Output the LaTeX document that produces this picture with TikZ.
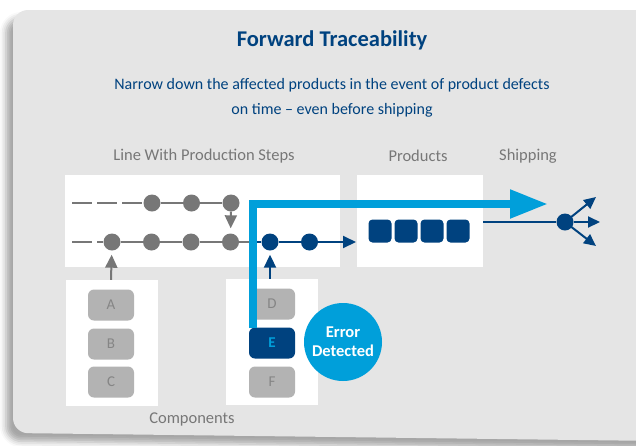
\documentclass[tikz,border=0pt]{standalone}
\usepackage{fontspec}
\setmainfont{Carlito}
\usetikzlibrary{positioning,calc,arrows.meta,shadows.blur}
\definecolor{navy}{HTML}{00427F}
\definecolor{errcyan}{HTML}{009FDA}
\definecolor{cardgray}{HTML}{E5E5E5}
\definecolor{dotgray}{HTML}{777777}
\definecolor{partgray}{HTML}{B3B3B3}
\definecolor{parttext}{HTML}{858585}
\definecolor{labelgray}{HTML}{777777}

\begin{document}
\begin{tikzpicture}[x=1pt,y=-1pt,node distance=39.5pt,on grid,
  stepdot/.style={circle,fill=dotgray,inner sep=0pt,minimum size=17pt},
  donedot/.style={stepdot,fill=navy},
  panel/.style={fill=white,inner sep=0pt},
  part/.style={rounded corners=6pt,fill=partgray,inner sep=0pt,minimum width=46pt,minimum height=31pt,text=parttext,font=\fontsize{15}{15}\selectfont},
  product/.style={rounded corners=4pt,fill=navy,inner sep=0pt,minimum size=23pt},
  caption/.style={text=labelgray,font=\fontsize{16.5}{16.5}\selectfont},
  gline/.style={dotgray,line width=2pt},
  dline/.style={gline,dash pattern=on 20pt off 5pt},
  nline/.style={navy,line width=2pt},
  tip/.style={-{Triangle[length=13pt,width=12pt]}}]
  \useasboundingbox (0,0) rectangle (636,445);

  % card
  \fill[cardgray,rounded corners=15pt,
    blur shadow={shadow xshift=-7pt,shadow yshift=-8pt,shadow blur radius=6pt,shadow opacity=35}]
    (13,10) -- (660,10) -- (660,441) -- (13,433) -- cycle;

  % texts
  \node[text=navy,font=\fontsize{22.5}{22.5}\selectfont\bfseries] (title) at (332,40) {Forward Traceability};
  \node[text=navy,align=center,font=\fontsize{16}{25}\selectfont] (sub) at (332,98)
    {Narrow down the affected products in the event of product defects\\on time -- even before shipping};
  \node[caption] (lbl_line) at (204,156) {Line With Production Steps};
  \node[caption] (lbl_prod) at (418,156) {Products};
  \node[caption] (lbl_ship) at (528,156) {Shipping};
  \node[caption] (lbl_comp) at (192,419) {Components};

  % panels
  \node[panel,minimum width=275pt,minimum height=92pt] (line_panel) at (202,221) {};
  \node[panel,minimum width=126pt,minimum height=92pt] (prod_panel) at (420,221) {};
  \node[panel,minimum width=92pt,minimum height=126pt] (comp_a) at (112,343) {};
  \node[panel,minimum width=92pt,minimum height=126pt] (comp_d) at (272,342) {};

  % production steps
  \node[stepdot] (t_1) at (152,203) {};
  \node[stepdot] (t_2) [right=of t_1] {};
  \node[stepdot] (t_3) [right=of t_2] {};
  \node[stepdot] (b_1) at (112,242) {};
  \node[stepdot] (b_2) [right=of b_1] {};
  \node[stepdot] (b_3) [right=of b_2] {};
  \node[stepdot] (b_4) [right=of b_3] {};
  \node[donedot] (b_5) [right=of b_4] {};
  \node[donedot] (b_6) [right=of b_5] {};
  \coordinate (t_0) at (72,203);
  \coordinate (b_0) at (72,242);
  \coordinate (b_end) at (356,242);

  % components
  \node[part] (a) at (111,305) {A};
  \node[part] (b) at (111,344) {B};
  \node[part] (c) at (111,382) {C};
  \node[part] (d) at (272,304) {D};
  \node[part,fill=navy,text=errcyan,font=\fontsize{15}{15}\selectfont\bfseries] (e) at (272,343) {E};
  \node[part] (f) at (272,382) {F};

  % products and shipping
  \node[product] (p_1) at (380,231) {};
  \node[product] (p_2) [right=26pt of p_1] {};
  \node[product] (p_3) [right=26pt of p_2] {};
  \node[product] (p_4) [right=26pt of p_3] {};
  \node[circle,fill=navy,inner sep=0pt,minimum size=17pt] (hub) at (565,222) {};
  \coordinate (ship_in) at (483,222);
  \coordinate (ship_u) at (596,197);
  \coordinate (ship_r) at (600,222);
  \coordinate (ship_d) at (596,246);

  % connectors
  \draw[dline] (t_0) -- (t_1);
  \draw[gline] (t_1) -- (t_2) -- (t_3);
  \draw[dline] (b_0) -- (b_1);
  \draw[gline] (b_1) -- (b_2) -- (b_3) -- (b_4) -- (b_5);
  \draw[nline] ($(b_4)!0.5!(b_5)$) -- (b_5) -- (b_6);
  \draw[nline,tip] (b_6) -- (b_end);
  \draw[gline,tip,shorten >=5pt] (t_3) -- (b_4);
  \draw[gline,tip,shorten >=4pt] (a.north |- comp_a.north) -- (b_1);
  \draw[nline,tip,shorten >=4pt] (comp_d.north -| b_5) -- (b_5);
  \draw[nline] (ship_in) -- (hub);
  \draw[nline,{Triangle[length=12pt,width=11pt]}-{Triangle[length=12pt,width=11pt]}] (ship_u) -- (hub.center) -- (ship_d);
  \draw[nline,-{Triangle[length=12pt,width=11pt]}] (hub) -- (ship_r);

  % trace of the faulty part
  \coordinate (err_src) at (253,328);
  \coordinate (err_tip) at (548,204);
  \draw[errcyan,line width=8pt,miter limit=10,-{Triangle[length=38pt,width=27pt]}] (err_src) |- (err_tip);
  \node[circle,fill=errcyan,text=white,align=center,inner sep=0pt,minimum size=78pt,
    font=\fontsize{16.5}{19}\selectfont\bfseries] (err) at (343,342) {Error\\Detected};
\end{tikzpicture}
\end{document}
